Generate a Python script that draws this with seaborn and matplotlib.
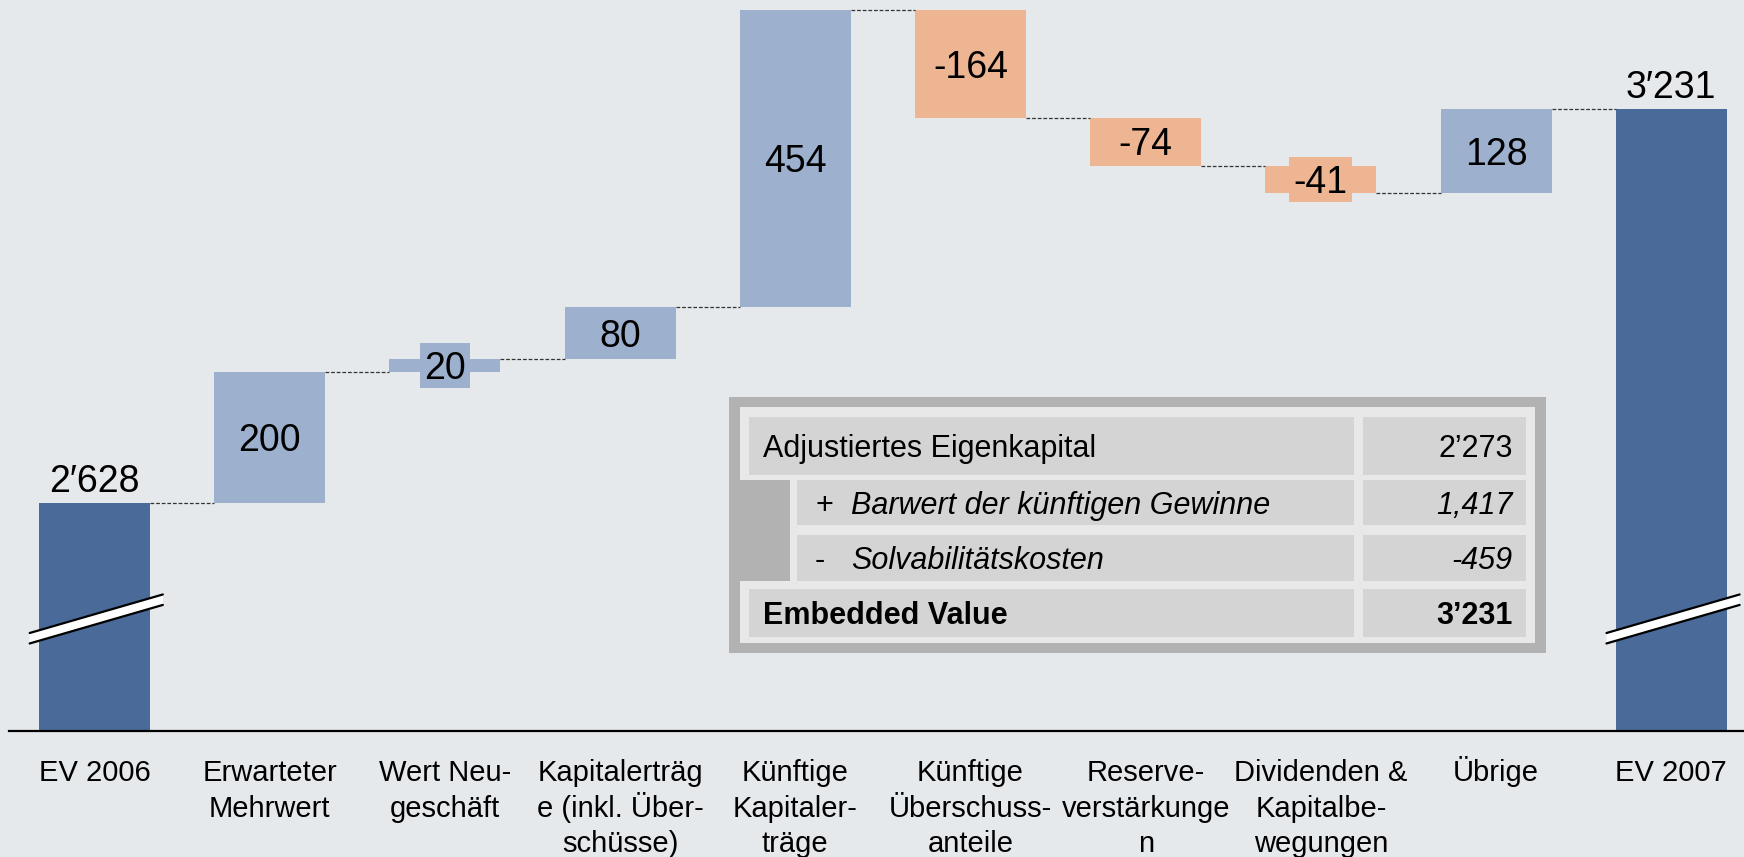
#!/usr/bin/env python3
"""Embedded Value waterfall 2006 -> 2007 with summary table."""

import matplotlib

matplotlib.use("Agg")
import matplotlib.pyplot as plt
import matplotlib.transforms as mtransforms
import numpy as np
import pandas as pd
import seaborn as sns
from matplotlib.patches import Polygon, Rectangle

CATEGORIES = [
    "EV 2006",
    "Erwarteter\nMehrwert",
    "Wert Neu-\ngeschäft",
    "Kapitalerträg\ne (inkl. Über-\nschüsse)",
    "Künftige\nKapitaler-\nträge",
    "Künftige\nÜberschuss-\nanteile",
    "Reserve-\nverstärkunge\nn",
    "Dividenden &\nKapitalbe-\nwegungen",
    "Übrige",
    "EV 2007",
]
START_VALUE = 2628
CHANGES = [200, 20, 80, 454, -164, -74, -41, 128]
END_VALUE = 3231
TOTAL_LABELS = ["2′628", "3′231"]

TABLE_SIGNS = ["", "+", "-", ""]
TABLE_LABELS = [
    "Adjustiertes Eigenkapital",
    "Barwert der künftigen Gewinne",
    "Solvabilitätskosten",
    "Embedded Value",
]
TABLE_VALUES = ["2’273", "1,417", "-459", "3’231"]

BG = "#E6E9EC"
TOTAL_COLOR = "#4A6A9A"
UP_COLOR = "#9DB0CE"
DOWN_COLOR = "#EDB592"
FRAME_GRAY = "#B2B2B2"
INNER_GRAY = "#E8E8E8"
CELL_GRAY = "#D4D4D4"

W, H = 1744, 857
BAR_WIDTH = 0.634
Y_LOW, Y_HIGH = 2279, 3398


def main() -> None:
    sns.set_theme(style="white")
    plt.rcParams["font.family"] = ["Liberation Sans", "DejaVu Sans"]
    plt.rcParams.update({"text.color": "black", "xtick.color": "black", "axes.labelcolor": "black"})

    levels = np.cumsum([START_VALUE, *CHANGES])
    bottoms = [0.0]
    heights = [float(START_VALUE)]
    colors = [TOTAL_COLOR]
    for i, ch in enumerate(CHANGES):
        bottoms.append(min(levels[i], levels[i + 1]))
        heights.append(abs(ch))
        colors.append(UP_COLOR if ch > 0 else DOWN_COLOR)
    bottoms.append(0.0)
    heights.append(float(END_VALUE))
    colors.append(TOTAL_COLOR)
    df = pd.DataFrame({"category": CATEGORIES, "height": heights})

    fig = plt.figure(figsize=(W / 100, H / 100), dpi=100, facecolor=BG)
    ax = fig.add_axes([9 / W, (H - 731) / H, (W - 9) / W, 731 / H])
    ax.set_facecolor(BG)

    sns.barplot(
        data=df,
        x="category",
        y="height",
        order=CATEGORIES,
        bottom=bottoms,
        width=BAR_WIDTH,
        color=TOTAL_COLOR,
        errorbar=None,
        linewidth=0,
        ax=ax,
    )
    for patch, c in zip(ax.patches, colors):
        patch.set_facecolor(c)
        patch.set_edgecolor("none")
        patch.set_zorder(1)

    x0 = -(94.5 - 9) / 175.2
    ax.set_xlim(x0, x0 + (W - 9) / 175.2)
    ax.set_ylim(Y_LOW, Y_HIGH)
    px_per_x = 175.2
    px_per_y = 731 / (Y_HIGH - Y_LOW)

    # dashed connectors between bars
    for i, lev in enumerate(levels):
        ax.plot(
            [i + BAR_WIDTH / 2, i + 1 - BAR_WIDTH / 2],
            [lev, lev],
            color="#333333",
            linewidth=0.9,
            linestyle=(0, (3, 1.5)),
            zorder=1,
        )

    # labels for changes, digits centred on the bar
    change_texts = []
    for i, ch in enumerate(CHANGES):
        yc = bottoms[i + 1] + heights[i + 1] / 2
        t = ax.annotate(
            f"{ch}",
            (i + 1, yc),
            xytext=(0, -9.8),
            textcoords="offset points",
            ha="center",
            va="baseline",
            fontsize=27,
            color="black",
            zorder=4,
        )
        change_texts.append((t, i + 1, yc, colors[i + 1]))

    # coloured box behind each change label (shows where the bar is thin)
    fig.canvas.draw()
    renderer = fig.canvas.get_renderer()
    for t, xpos, yc, col in change_texts:
        ext = t.get_window_extent(renderer)
        bw = (ext.width + 9) / px_per_x
        bh = 45 / px_per_y
        ax.add_patch(
            Rectangle(
                (xpos - bw / 2, yc - bh / 2),
                bw,
                bh,
                facecolor=col,
                edgecolor="none",
                zorder=2,
            )
        )

    # labels for totals
    for xpos, val, lab in [(0, START_VALUE, TOTAL_LABELS[0]), (9, END_VALUE, TOTAL_LABELS[1])]:
        ax.annotate(
            lab,
            (xpos, val),
            xytext=(0, 2.5),
            textcoords="offset points",
            ha="center",
            va="bottom",
            fontsize=27,
            color="black",
        )

    # axis break marks on the total bars
    for xpos in (0, len(CATEGORIES) - 1):
        xl, xr = xpos - 0.37, xpos + 0.39
        yl, yr, th = 2421, 2480, 16
        ax.add_patch(
            Polygon(
                [(xl, yl - th / 2), (xr, yr - th / 2), (xr, yr + th / 2), (xl, yl + th / 2)],
                closed=True,
                facecolor="white",
                edgecolor="none",
                zorder=5,
                clip_on=False,
            )
        )
        for off in (-th / 2, th / 2):
            ax.plot([xl, xr], [yl + off, yr + off], color="black", linewidth=1.6, zorder=6, clip_on=False)

    for side in ("top", "right", "left"):
        ax.spines[side].set_visible(False)
    ax.spines["bottom"].set_color("black")
    ax.spines["bottom"].set_linewidth(1.6)
    ax.set_yticks([])
    ax.set_xlabel("")
    ax.set_ylabel("")
    ax.set_xticks(range(len(CATEGORIES)))
    ax.set_xticklabels([])
    ax.tick_params(axis="x", length=0)

    # category labels, one text per line so first lines align
    px = mtransforms.Affine2D().scale(1 / W, -1 / H).translate(0, 1) + fig.transFigure
    lab_trans = mtransforms.blended_transform_factory(ax.transData, px)
    for i, cat in enumerate(CATEGORIES):
        for k, line in enumerate(cat.split("\n")):
            ax.text(
                i,
                781 + k * 35.6,
                line,
                transform=lab_trans,
                ha="center",
                va="baseline",
                fontsize=21,
                color="black",
                clip_on=False,
            )

    # summary table drawn in pixel coordinates (origin top-left)
    def rect(x1, y1, x2, y2, color):
        fig.add_artist(Rectangle((x1, y1), x2 - x1, y2 - y1, transform=px, facecolor=color, edgecolor="none"))

    rect(728.5, 397, 1546, 653, FRAME_GRAY)
    rect(739.6, 407, 1534.8, 643, INNER_GRAY)
    rect(739.6, 480.5, 789.7, 580.6, FRAME_GRAY)
    rows = [(417, 475, 748.5), (480.5, 525, 797.4), (535, 580.6, 797.4), (589.5, 637, 748.5)]
    for y1, y2, xl in rows:
        rect(xl, y1, 1353.6, y2, CELL_GRAY)
        rect(1362.5, y1, 1526, y2, CELL_GRAY)

    styles = [("normal", "normal"), ("italic", "normal"), ("italic", "normal"), ("normal", "bold")]
    for (y1, y2, xl), sign, lab, val, (fst, fw) in zip(rows, TABLE_SIGNS, TABLE_LABELS, TABLE_VALUES, styles):
        yb = (y1 + y2) / 2 + 11
        kw = {"transform": px, "va": "baseline", "fontsize": 22, "color": "black"}
        if sign:
            fig.text(815, yb, sign, ha="left", **kw)
            fig.text(851, yb, lab, ha="left", style=fst, weight=fw, **kw)
        else:
            fig.text(763, yb, lab, ha="left", style=fst, weight=fw, **kw)
        fig.text(1513, yb, val, ha="right", style=fst, weight=fw, **kw)

    fig.savefig("out.png", dpi=100, facecolor=BG)
    plt.close(fig)


if __name__ == "__main__":
    main()
